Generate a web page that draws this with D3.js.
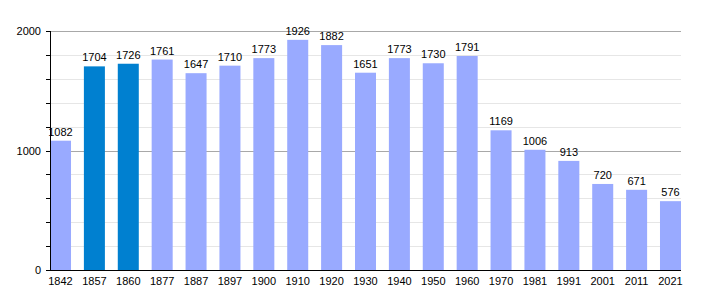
<!DOCTYPE html>
<html lang="en">
<head>
    <meta charset="UTF-8">
    <title>Population</title>
    <script type="text/javascript" src="https://cdn.jsdelivr.net/npm/d3@7/dist/d3.min.js"></script>
    <style>
        body { margin: 0; background: #fff; }
        text { font-family: "Liberation Sans", Arial, sans-serif; font-size: 11px; fill: #000; }
    </style>
</head>
<body>
<script type="text/javascript">
    const width = 710, height = 300;
    const margin = {top: 31, right: 29, bottom: 30, left: 50};

    // data
    const years = ['1842', '1857', '1860', '1877', '1887', '1897', '1900', '1910', '1920', '1930',
        '1940', '1950', '1960', '1970', '1981', '1991', '2001', '2011', '2021'];
    const population = [1082, 1704, 1726, 1761, 1647, 1710, 1773, 1926, 1882, 1651,
        1773, 1730, 1791, 1169, 1006, 913, 720, 671, 576];
    const highlighted = ['1857', '1860'];
    const majorTicks = [0, 1000, 2000];
    const minorTicks = [200, 400, 600, 800, 1200, 1400, 1600, 1800];

    const svg = d3.select('body').append('svg')
        .attr('width', width)
        .attr('height', height);

    const x = d3.scaleBand()
        .domain(years)
        .range([margin.left, width - margin.right])
        .paddingInner(0.38)
        .paddingOuter(0);

    const y = d3.scaleLinear()
        .domain([0, 2000])
        .range([height - margin.bottom, margin.top]);

    // minor grid
    svg.append('g').selectAll('line')
        .data(minorTicks)
        .enter().append('line')
        .attr('x1', margin.left).attr('x2', width - margin.right)
        .attr('y1', d => Math.round(y(d)) + 0.5).attr('y2', d => Math.round(y(d)) + 0.5)
        .style('stroke', '#e6e6e6');

    // major grid
    svg.append('g').selectAll('line')
        .data(majorTicks.filter(d => d > 0))
        .enter().append('line')
        .attr('x1', margin.left).attr('x2', width - margin.right)
        .attr('y1', d => Math.round(y(d)) + 0.5).attr('y2', d => Math.round(y(d)) + 0.5)
        .style('stroke', '#a8a8a8');

    // bars
    svg.append('g').selectAll('rect')
        .data(population)
        .enter().append('rect')
        .attr('x', (d, i) => x(years[i]))
        .attr('width', x.bandwidth())
        .attr('y', d => y(d))
        .attr('height', d => y(0) - y(d))
        .style('fill', (d, i) => highlighted.includes(years[i]) ? '#0080d0' : '#99aaff');

    // value labels
    svg.append('g').selectAll('text')
        .data(population)
        .enter().append('text')
        .attr('x', (d, i) => x(years[i]) + x.bandwidth() / 2)
        .attr('y', d => y(d) - 5)
        .attr('text-anchor', 'middle')
        .text(d => d);

    // y axis
    const yAxis = svg.append('g');
    yAxis.append('line')
        .attr('x1', margin.left + 0.5).attr('x2', margin.left + 0.5)
        .attr('y1', y(2000)).attr('y2', y(0))
        .style('stroke', '#000');
    yAxis.selectAll('line.tick')
        .data(majorTicks.concat(minorTicks))
        .enter().append('line')
        .attr('class', 'tick')
        .attr('x1', margin.left - 4).attr('x2', margin.left)
        .attr('y1', d => Math.round(y(d)) + 0.5).attr('y2', d => Math.round(y(d)) + 0.5)
        .style('stroke', '#000');
    yAxis.selectAll('text')
        .data(majorTicks)
        .enter().append('text')
        .attr('x', margin.left - 9)
        .attr('y', d => y(d) + 4)
        .attr('text-anchor', 'end')
        .text(d => d);

    // x axis
    svg.append('line')
        .attr('x1', margin.left).attr('x2', width - margin.right)
        .attr('y1', y(0) + 0.5).attr('y2', y(0) + 0.5)
        .style('stroke', '#000');
    svg.append('g').selectAll('text')
        .data(years)
        .enter().append('text')
        .attr('x', d => x(d) + x.bandwidth() / 2)
        .attr('y', y(0) + 15)
        .attr('text-anchor', 'middle')
        .text(d => d);
</script>
</body>
</html>
